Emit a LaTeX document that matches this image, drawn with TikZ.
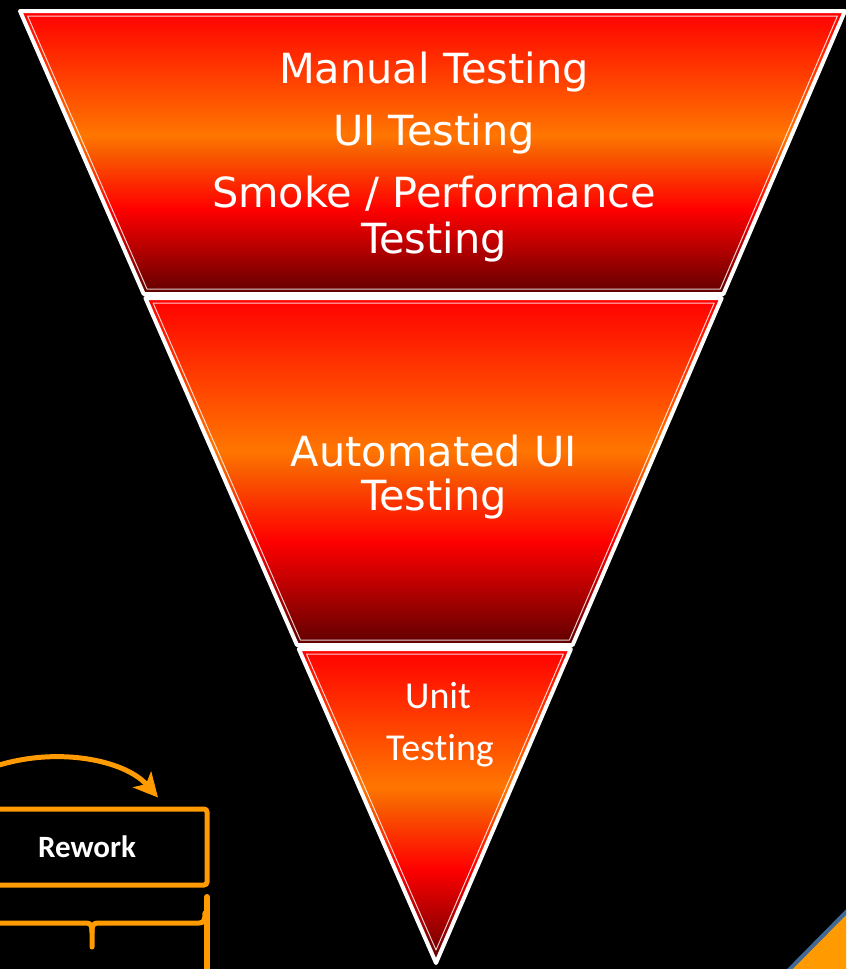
\documentclass[tikz,border=0pt]{standalone}
\usepackage{fontspec}
\setmainfont{DejaVu Sans}
\newfontfamily\calibri[Ligatures=NoCommon]{Carlito}
\usetikzlibrary{arrows.meta}

\definecolor{segdark}{RGB}{95,0,0}
\definecolor{segred}{RGB}{255,0,0}
\definecolor{segorange}{RGB}{255,118,0}
\definecolor{segorangeb}{RGB}{248,92,0}
\definecolor{reworkorange}{RGB}{255,155,0}
\definecolor{cornerblue}{RGB}{65,105,150}

% bottom dark, orange band a bit above the middle, red at the top
\pgfdeclareverticalshading{segfill}{100bp}{color(0bp)=(segdark); color(25bp)=(segdark); color(40bp)=(segred); color(50bp)=(segorangeb); color(53bp)=(segorange); color(75bp)=(segred); color(100bp)=(segred)}

\begin{document}
\begin{tikzpicture}[%
            x=1pt, y=-1pt,
            segline/.style={draw=white, line width=4pt, line join=round, shade, shading=segfill},
            seginner/.style={draw=white, line width=1pt, draw opacity=0.8, line join=round},
            toptext/.style={text=white, anchor=base, inner sep=0pt, font=\fontsize{41.5}{49}\selectfont},
            unittext/.style={text=white, anchor=base, inner sep=0pt, font=\calibri\fontsize{38}{46}\selectfont},
            orangeline/.style={draw=reworkorange, line width=5pt, line cap=round},
            reworkbox/.style={draw=reworkorange, line width=5pt, rounded corners=3pt,
                minimum width=240pt, minimum height=76pt, text=white,
                font=\calibri\bfseries\fontsize{31}{37}\selectfont}
    ]
        \useasboundingbox (0,0) rectangle (846,969);
        \clip (0,0) rectangle (846,969);
        \fill [black] (0,0) rectangle (846,969);

        % the three parts of the funnel
        \path [segline] (20,11) -- (845,11) -- (723.4,294) -- (143.7,294) -- cycle;
        \draw [seginner] (27.6,16) -- (837.4,16) -- (720.2,289) -- (147.0,289) -- cycle;

        \path [segline] (145.4,298) -- (721.7,298) -- (572.6,645) -- (297,645) -- cycle;
        \draw [seginner] (153.1,303) -- (714.2,303) -- (569.4,640) -- (300.4,640) -- cycle;

        \path [segline] (298.8,649) -- (570.9,649) -- (436,963) -- cycle;
        \draw [seginner] (306.5,654) -- (563.4,654) -- (436,950) -- cycle;

        \node [toptext] (manual) at (434,83) {Manual Testing};
        \node [toptext] (uitest) at (434,145) {UI Testing};
        \node [toptext] (smoke) at (434,207) {Smoke / Performance};
        \node [toptext] (smoketwo) at (434,253) {Testing};

        \node [toptext] (autoui) at (434,466) {Automated UI};
        \node [toptext] (autouitwo) at (434,510) {Testing};

        \node [unittext] (unit) at (438,708) {Unit};
        \node [unittext] (unittwo) at (440,760) {Testing};

        % rework loop, bottom left
        \node [reworkbox] (rework) at (87,847) {Rework};
        \coordinate (loopstart) at (-10,768);
        \draw [orangeline, -{Stealth[length=24pt,width=24pt,inset=6pt]}]
            (loopstart) .. controls (55,745) and (125,760) .. ([xshift=71pt,yshift=9pt]rework.north);

        \coordinate (bracestart) at (-10,923);
        \draw [orangeline, line join=round] (bracestart) -- (86,923)
            .. controls (91,923) and (92,926) .. (92,932) -- (92,947);
        \draw [orangeline, line join=round] (92,932)
            .. controls (92,926) and (93,923) .. (98,923) -- (199,923)
            .. controls (204,923) and (205,920) .. (205,913);
        \draw [orangeline, line width=6pt] (207,897) -- (207,985);

        % corner of the next shape, bottom right
        \filldraw [fill=reworkorange, draw=cornerblue, line width=4pt]
            (779,980) -- (858,900) -- (880,1000) -- cycle;
    \end{tikzpicture}
\end{document}
